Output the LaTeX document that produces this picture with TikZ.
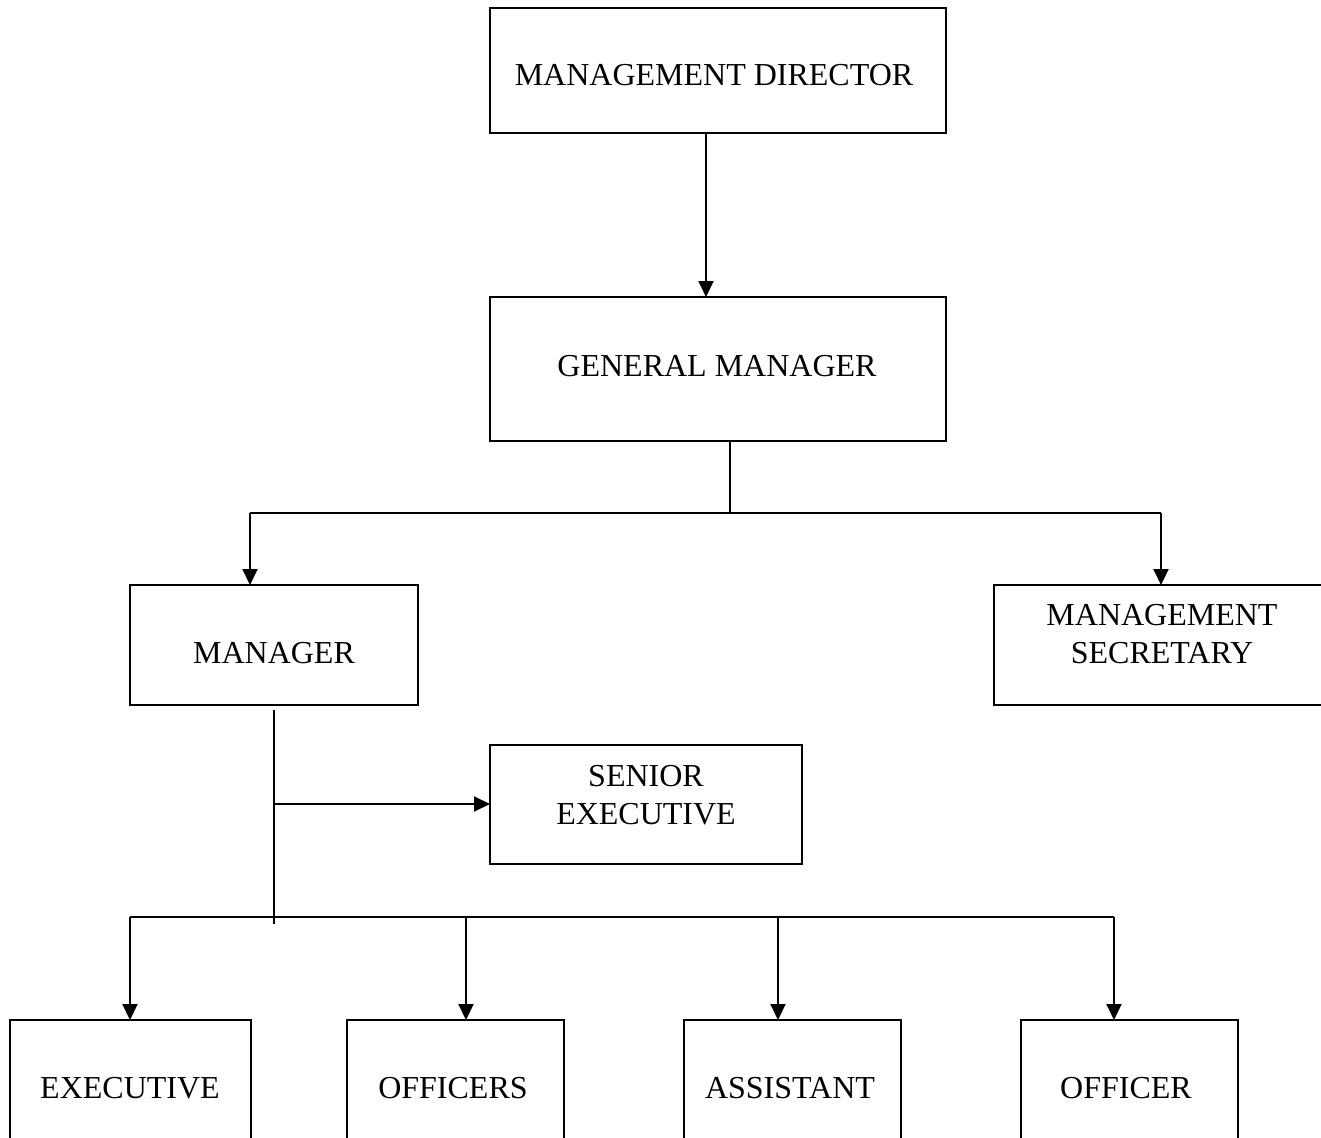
\documentclass[tikz,border=0pt]{standalone}
\usepackage{fontspec}
\setmainfont{Liberation Serif}
\usetikzlibrary{arrows.meta}
\begin{document}
\begin{tikzpicture}[x=1pt,y=-1pt,
  box/.style={draw,line width=2pt,inner sep=0pt,outer sep=0pt},
  lbl/.style={inner sep=0pt,align=center,font=\fontsize{32}{38}\selectfont},
  ln/.style={line width=2pt},
  arr/.style={line width=2pt,-{Triangle[length=16pt,width=15pt]}}]
\useasboundingbox (0,0) rectangle (1321,1137);
\clip (0,0) rectangle (1321,1137);
% boxes
\node[box,minimum width=456,minimum height=125] (md) at (718,70.5) {};
\node[lbl] (mdt) at (714,75) {MANAGEMENT DIRECTOR};
\node[box,minimum width=456,minimum height=144] (gm) at (718,369) {};
\node[lbl] (gmt) at (717,366) {GENERAL MANAGER};
\node[box,minimum width=288,minimum height=120] (mgr) at (274,645) {};
\node[lbl] (mgrt) at (274,653) {MANAGER};
\node[box,minimum width=360,minimum height=120] (ms) at (1174,645) {};
\node[lbl] (mst) at (1162,634) {MANAGEMENT\\SECRETARY};
\node[box,minimum width=312,minimum height=119] (se) at (646,804.5) {};
\node[lbl] (set) at (646,795) {SENIOR\\EXECUTIVE};
\node[box,minimum width=241,minimum height=240] (ex) at (130.5,1140) {};
\node[lbl] (ext) at (130,1088) {EXECUTIVE};
\node[box,minimum width=217,minimum height=240] (of1) at (455.5,1140) {};
\node[lbl] (of1t) at (453,1088) {OFFICERS};
\node[box,minimum width=217,minimum height=240] (as) at (792,1140) {};
\node[lbl] (ast) at (790,1088) {ASSISTANT};
\node[box,minimum width=217,minimum height=240] (of2) at (1129,1140) {};
\node[lbl] (of2t) at (1126,1088) {OFFICER};
% connector coordinates
\coordinate (c1) at (706,0);
\coordinate (j1) at (730,513);
\coordinate (jl) at (250,513);
\coordinate (jr) at (1161,513);
\coordinate (v1) at (274,710);
\coordinate (v2) at (274,924);
\coordinate (h1) at (274,804);
\coordinate (b0) at (130,917);
\coordinate (b1) at (466,917);
\coordinate (b2) at (778,917);
\coordinate (b3) at (1114,917);
% connectors
\draw[arr] (c1 |- md.south) -- (c1 |- gm.north);
\draw[ln] (j1 |- gm.south) -- (j1);
\draw[ln] (jl) -- (jr);
\draw[arr] (jl) -- (jl |- mgr.north);
\draw[arr] (jr) -- (jr |- ms.north);
\draw[ln] (v1) -- (v2);
\draw[arr] (h1) -- (h1 -| se.west);
\draw[ln] (b0) -- (b3);
\draw[arr] (b0) -- (b0 |- ex.north);
\draw[arr] (b1) -- (b1 |- of1.north);
\draw[arr] (b2) -- (b2 |- as.north);
\draw[arr] (b3) -- (b3 |- of2.north);
\end{tikzpicture}
\end{document}
